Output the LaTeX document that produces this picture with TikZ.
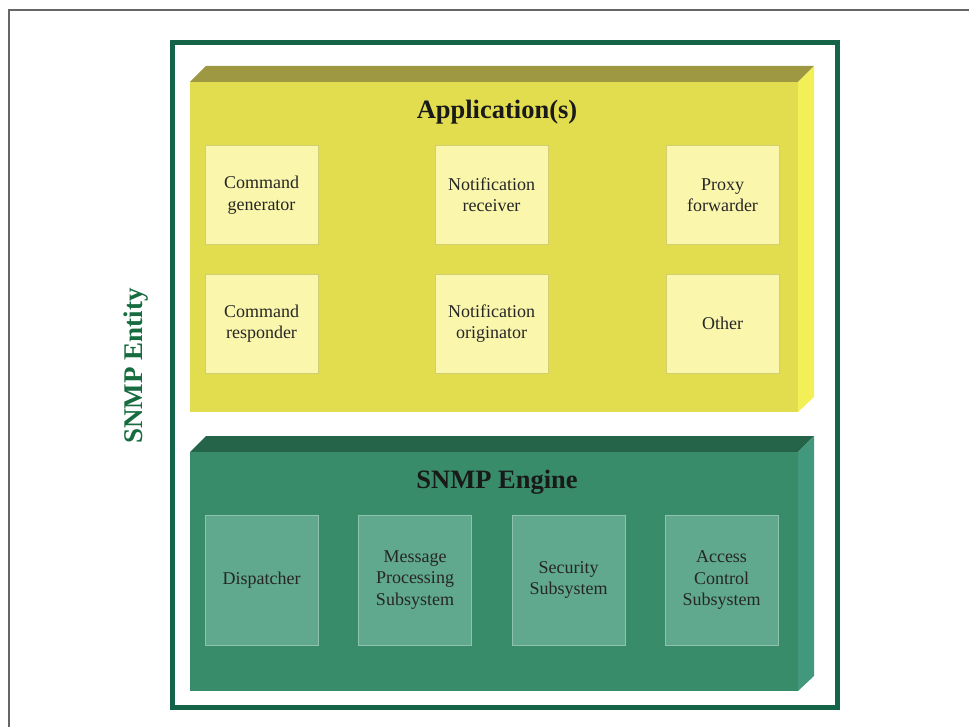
\documentclass[tikz,border=0pt]{standalone}
\usepackage{fontspec}
\setmainfont{Liberation Serif}
\definecolor{yfront}{RGB}{226,221,78}
\definecolor{ytop}{RGB}{158,152,66}
\definecolor{yside}{RGB}{242,240,86}
\definecolor{ybox}{RGB}{250,246,172}
\definecolor{gfront}{RGB}{56,140,106}
\definecolor{gtop}{RGB}{38,100,74}
\definecolor{gside}{RGB}{66,152,124}
\definecolor{gbox}{RGB}{96,168,142}
\definecolor{frame}{RGB}{22,100,72}
\definecolor{entity}{RGB}{22,108,62}
\tikzset{
  appbox/.style={draw=ybox!80!black!60!yfront, line width=0.8pt, fill=ybox, minimum width=113pt, minimum height=99pt, inner sep=0pt, align=center, font=\fontsize{18}{21.5}\selectfont, text=black!85},
  engbox/.style={draw=gbox!70!white, line width=0.8pt, fill=gbox, minimum width=113pt, minimum height=130pt, inner sep=0pt, align=center, font=\fontsize{18}{21.5}\selectfont, text=black!85},
  title/.style={font=\fontsize{26.5}{30}\selectfont\bfseries, text=black!90, inner sep=0pt}
}
\begin{document}
\begin{tikzpicture}[x=1pt,y=-1pt]
\useasboundingbox (0,0) rectangle (969,727);
\fill[white] (0,0) rectangle (969,727);
% outer gray border (cropped at right and bottom)
\draw[line width=2pt, black!60] (9,740) -- (9,10) -- (985,10);
% green frame
\draw[line width=5pt, frame] (172.5,42.5) rectangle (837.5,707.5);
% application block
\fill[ytop] (190,82) -- (206,66) -- (814,66) -- (798,82) -- cycle;
\fill[yside] (798,82) -- (814,66) -- (814,397) -- (798,412) -- cycle;
\fill[yfront] (190,82) rectangle (798,412);
% engine block
\fill[gtop] (190,452) -- (206,436) -- (814,436) -- (798,452) -- cycle;
\fill[gside] (798,452) -- (814,436) -- (814,676) -- (798,691) -- cycle;
\fill[gfront] (190,452) rectangle (798,691);
% titles
\node[title] (apps) at (497,112) {Application(s)};
\node[title] (engine) at (497,482) {SNMP Engine};
\node[rotate=90, font=\fontsize{27}{30}\selectfont\bfseries, text=entity, inner sep=0pt] (entitylabel) at (136,366) {SNMP Entity};
% application boxes
\node[appbox] (cmdgen) at (261.5,195) {Command\\generator};
\node[appbox] (notrec) at (491.5,195) {Notification\\receiver};
\node[appbox] (proxy) at (722.5,195) {Proxy\\forwarder};
\node[appbox] (cmdresp) at (261.5,323.5) {Command\\responder};
\node[appbox] (notorig) at (491.5,323.5) {Notification\\originator};
\node[appbox] (other) at (722.5,323.5) {Other};
% engine boxes
\node[engbox] (disp) at (261.5,580) {Dispatcher};
\node[engbox] (msgproc) at (415,580) {Message\\Processing\\Subsystem};
\node[engbox] (secur) at (568.5,580) {Security\\Subsystem};
\node[engbox] (access) at (721.5,580) {Access\\Control\\Subsystem};
\end{tikzpicture}
\end{document}
